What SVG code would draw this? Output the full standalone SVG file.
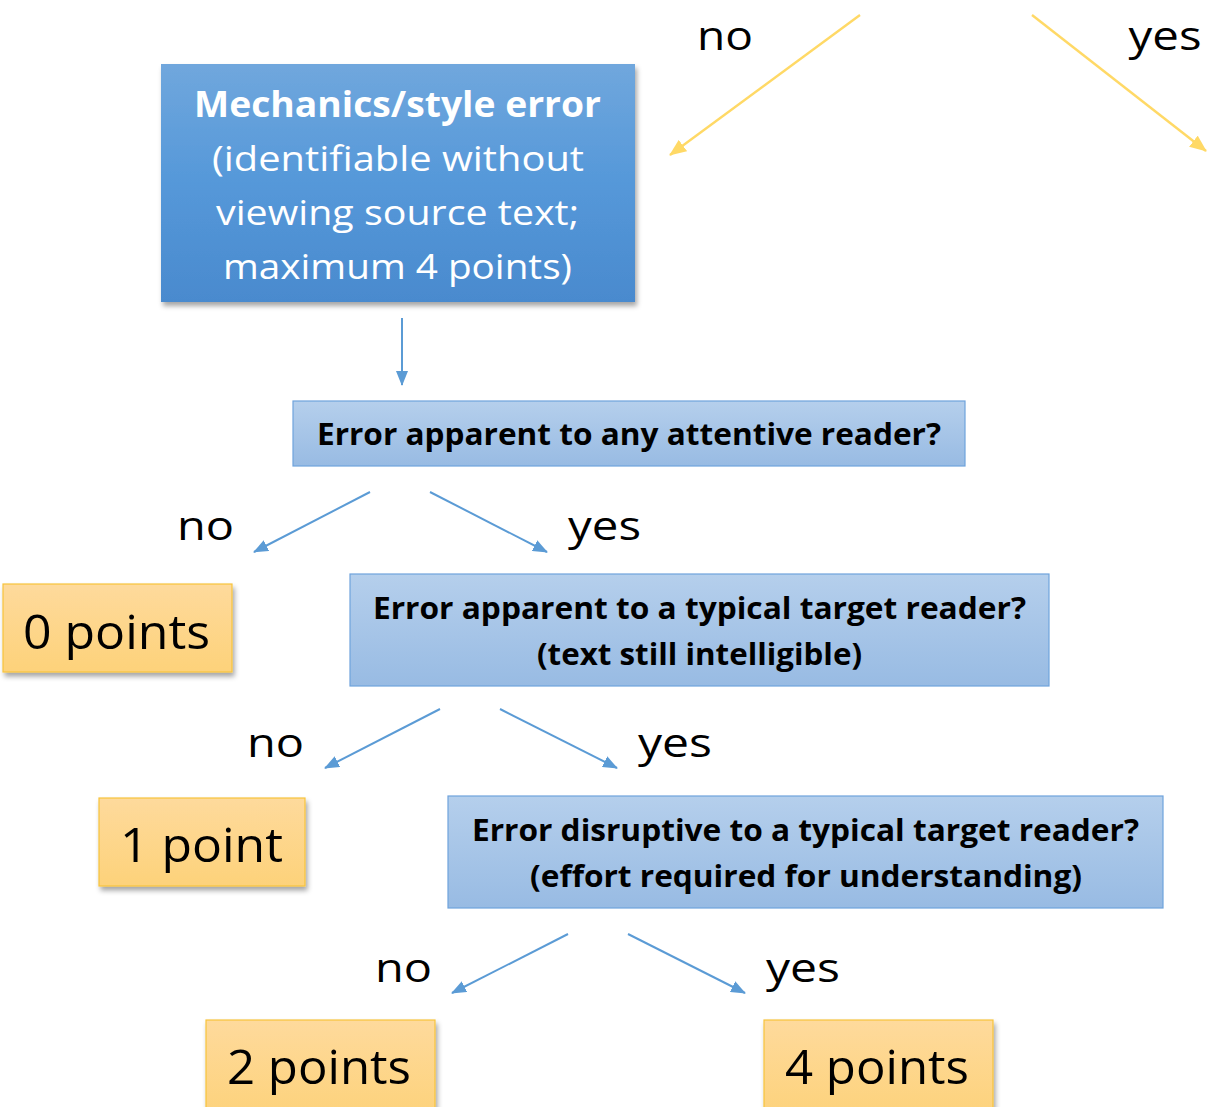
<svg xmlns="http://www.w3.org/2000/svg" width="1212" height="1107" viewBox="0 0 1212 1107">
<style>
.t{font-family:"Open Sans","Noto Sans","Liberation Sans",sans-serif;fill:#000;text-anchor:middle}
.w{font-family:"Open Sans","Noto Sans","Liberation Sans",sans-serif;fill:#fff;text-anchor:middle}
.b{font-weight:bold}
.lbl{font-size:41px}
.pts{font-size:48px}
.q{font-size:31px;font-weight:bold}
.bl{stroke:#5b9bd5;stroke-width:2;fill:none}
.yl{stroke:#ffd966;stroke-width:2.4;fill:none}
.qbox{fill:url(#lb);stroke:#6fa3dc;stroke-width:1.2}
.pbox{fill:url(#yg);stroke:#f7c43b;stroke-width:1.2}
</style>
<defs>
<linearGradient id="db" x1="0" y1="0" x2="0" y2="1"><stop offset="0" stop-color="#70a7dd"/><stop offset="0.5" stop-color="#5598d9"/><stop offset="1" stop-color="#4a8ace"/></linearGradient>
<linearGradient id="lb" x1="0" y1="0" x2="0" y2="1"><stop offset="0" stop-color="#b5cfec"/><stop offset="1" stop-color="#98bbe3"/></linearGradient>
<linearGradient id="yg" x1="0" y1="0" x2="0" y2="1"><stop offset="0" stop-color="#feda9c"/><stop offset="1" stop-color="#fdd27a"/></linearGradient>
<filter id="sh" x="-10%" y="-10%" width="130%" height="140%"><feDropShadow dx="2" dy="4" stdDeviation="2.5" flood-color="#000" flood-opacity="0.35"/></filter>
<marker id="ab" viewBox="0 0 15 12" refX="14" refY="6" markerWidth="15" markerHeight="12" markerUnits="userSpaceOnUse" orient="auto"><path d="M0,0 L15,6 L0,12 z" fill="#5b9bd5"/></marker>
<marker id="ay" viewBox="0 0 17 14" refX="16" refY="7" markerWidth="17" markerHeight="14" markerUnits="userSpaceOnUse" orient="auto"><path d="M0,0 L17,7 L0,14 z" fill="#ffd966"/></marker>
</defs>
<rect width="1212" height="1107" fill="#fff"/>

<g id="connectors">
<line class="yl" x1="860" y1="15" x2="670" y2="155" marker-end="url(#ay)"/>
<line class="yl" x1="1032" y1="15" x2="1206" y2="151" marker-end="url(#ay)"/>
<line class="bl" x1="402" y1="318" x2="402" y2="385" marker-end="url(#ab)"/>
<line class="bl" x1="370" y1="492" x2="254" y2="552" marker-end="url(#ab)"/>
<line class="bl" x1="430" y1="492" x2="547" y2="552" marker-end="url(#ab)"/>
<line class="bl" x1="440" y1="709" x2="325" y2="768" marker-end="url(#ab)"/>
<line class="bl" x1="500" y1="709" x2="617" y2="768" marker-end="url(#ab)"/>
<line class="bl" x1="568" y1="934" x2="452" y2="993" marker-end="url(#ab)"/>
<line class="bl" x1="628" y1="934" x2="745" y2="993" marker-end="url(#ab)"/>
</g>

<g id="labels">
<text class="t lbl" x="725" y="50" textLength="56" lengthAdjust="spacingAndGlyphs">no</text>
<text class="t lbl" x="1165" y="50" textLength="73" lengthAdjust="spacingAndGlyphs">yes</text>
<text class="t lbl" x="205.5" y="540" textLength="57" lengthAdjust="spacingAndGlyphs">no</text>
<text class="t lbl" x="604.5" y="540" textLength="73" lengthAdjust="spacingAndGlyphs">yes</text>
<text class="t lbl" x="275.5" y="757" textLength="57" lengthAdjust="spacingAndGlyphs">no</text>
<text class="t lbl" x="675" y="757" textLength="74" lengthAdjust="spacingAndGlyphs">yes</text>
<text class="t lbl" x="403.5" y="982" textLength="57" lengthAdjust="spacingAndGlyphs">no</text>
<text class="t lbl" x="803" y="982" textLength="74" lengthAdjust="spacingAndGlyphs">yes</text>
</g>

<g id="n-mechanics">
<rect x="161" y="64" width="474" height="238" fill="url(#db)" filter="url(#sh)"/>
<text class="w b" x="397.5" y="117" font-size="35" textLength="407" lengthAdjust="spacingAndGlyphs">Mechanics/style error</text>
<text class="w" x="398" y="171" font-size="35" textLength="372" lengthAdjust="spacingAndGlyphs">(identifiable without</text>
<text class="w" x="397.5" y="225" font-size="35" textLength="363" lengthAdjust="spacingAndGlyphs">viewing source text;</text>
<text class="w" x="397.5" y="279" font-size="35" textLength="349" lengthAdjust="spacingAndGlyphs">maximum 4 points)</text>
</g>

<g id="n-q1">
<rect class="qbox" x="293" y="401" width="672" height="65"/>
<text class="t q" x="629" y="445" textLength="624" lengthAdjust="spacingAndGlyphs">Error apparent to any attentive reader?</text>
</g>

<g id="n-0pts">
<rect class="pbox" x="3" y="584" width="229" height="88" filter="url(#sh)"/>
<text class="t pts" x="116.5" y="649" textLength="187" lengthAdjust="spacingAndGlyphs">0 points</text>
</g>

<g id="n-q2">
<rect class="qbox" x="350" y="574" width="699" height="112"/>
<text class="t q" x="699.5" y="619" textLength="653" lengthAdjust="spacingAndGlyphs">Error apparent to a typical target reader?</text>
<text class="t q" x="699.5" y="665" textLength="325" lengthAdjust="spacingAndGlyphs">(text still intelligible)</text>
</g>

<g id="n-1pt">
<rect class="pbox" x="99" y="798" width="206" height="88" filter="url(#sh)"/>
<text class="t pts" x="201.5" y="862" textLength="163" lengthAdjust="spacingAndGlyphs">1 point</text>
</g>

<g id="n-q3">
<rect class="qbox" x="448" y="796" width="715" height="112"/>
<text class="t q" x="805.5" y="841" textLength="667" lengthAdjust="spacingAndGlyphs">Error disruptive to a typical target reader?</text>
<text class="t q" x="806" y="887" textLength="552" lengthAdjust="spacingAndGlyphs">(effort required for understanding)</text>
</g>

<g id="n-2pts">
<rect class="pbox" x="206" y="1020" width="229" height="100" filter="url(#sh)"/>
<text class="t pts" x="319" y="1084" textLength="184" lengthAdjust="spacingAndGlyphs">2 points</text>
</g>

<g id="n-4pts">
<rect class="pbox" x="764" y="1020" width="229" height="100" filter="url(#sh)"/>
<text class="t pts" x="877" y="1084" textLength="184" lengthAdjust="spacingAndGlyphs">4 points</text>
</g>
</svg>
